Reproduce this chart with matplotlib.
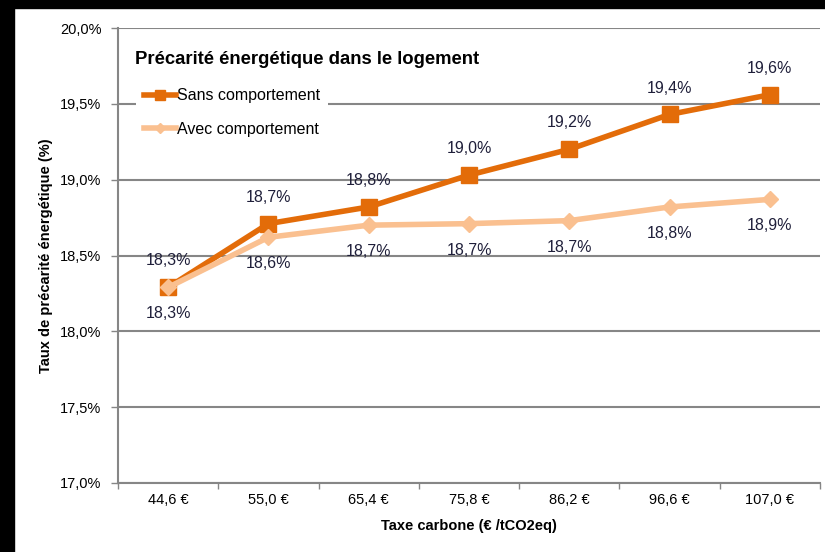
import matplotlib
matplotlib.use("Agg")
import matplotlib.pyplot as plt
from matplotlib.patches import Rectangle

categories = ["44,6 €", "55,0 €", "65,4 €", "75,8 €", "86,2 €", "96,6 €", "107,0 €"]
sans = [18.29, 18.71, 18.82, 19.03, 19.20, 19.43, 19.56]
avec = [18.29, 18.62, 18.70, 18.71, 18.73, 18.82, 18.87]
sans_labels = ["18,3%", "18,7%", "18,8%", "19,0%", "19,2%", "19,4%", "19,6%"]
avec_labels = ["18,3%", "18,6%", "18,7%", "18,7%", "18,7%", "18,8%", "18,9%"]
yticks = [17.0, 17.5, 18.0, 18.5, 19.0, 19.5, 20.0]
ytick_labels = ["17,0%", "17,5%", "18,0%", "18,5%", "19,0%", "19,5%", "20,0%"]

plt.rcParams['font.family'] = ['Liberation Sans', 'DejaVu Sans']

c_sans = "#E36C09"
c_avec = "#FAC090"
grid_c = "#868686"
lab_c = "#1F1F3A"

fig = plt.figure(figsize=(8.25, 5.52), dpi=100)
ax = fig.add_axes([118/825, 69/552, 702/825, 455/552])

x = list(range(len(categories)))
ax.set_xlim(-0.5, len(categories) - 0.5)
ax.set_ylim(17.0, 20.0)

ax.set_yticks(yticks)
ax.set_yticklabels(ytick_labels, fontsize=10.5)
ax.yaxis.grid(True, color=grid_c, linewidth=1.5, zorder=0)
ax.set_axisbelow(True)

ax.set_xticks(x)
ax.set_xticklabels(categories, fontsize=10.5)
ax.set_xticks([i - 0.5 for i in range(len(categories) + 1)], minor=True)
ax.tick_params(axis='x', which='major', length=0, pad=7)
ax.tick_params(axis='x', which='minor', length=4, color=grid_c, width=1)
ax.tick_params(axis='y', length=5, color=grid_c, width=1, pad=7)

for s in ['top', 'right']:
    ax.spines[s].set_visible(False)
for s in ['left', 'bottom']:
    ax.spines[s].set_color(grid_c)
    ax.spines[s].set_linewidth(1.5)

ax.plot(x, sans, color=c_sans, lw=4, marker='s', ms=12, zorder=4, label="Sans comportement")
ax.plot(x, avec, color=c_avec, lw=4, marker='D', ms=8, zorder=5, label="Avec comportement")

for xi, v, t in zip(x, sans, sans_labels):
    ax.annotate(t, (xi, v), xytext=(0, 19), textcoords='offset points',
                ha='center', va='center', fontsize=11.5, color=lab_c, zorder=6)
for xi, v, t in zip(x, avec, avec_labels):
    ax.annotate(t, (xi, v), xytext=(0, -19), textcoords='offset points',
                ha='center', va='center', fontsize=11.5, color=lab_c, zorder=6)

leg = ax.legend(loc='upper left', bbox_to_anchor=(0.026, 0.885), fontsize=11.5,
                frameon=True, facecolor='white', edgecolor='none', framealpha=1,
                handlelength=2.0, handletextpad=0.05, labelspacing=1.15,
                borderpad=0.5, borderaxespad=0, fancybox=False, markerscale=0.6)
leg.set_zorder(7)

ax.text((135-118)/702, 1 - (60-28)/455, "Précarité énergétique dans le logement",
        transform=ax.transAxes, fontsize=13.3, fontweight='bold', ha='left', va='center', zorder=8)

ax.set_ylabel("Taux de précarité énergétique (%)", fontsize=10.5, fontweight='bold', labelpad=5)
ax.set_xlabel("Taxe carbone (€ /tCO2eq)", fontsize=10.5, fontweight='bold', labelpad=9)

fig.patches.append(Rectangle((0, 0), 14/825, 1, transform=fig.transFigure, color='black', zorder=10))
fig.patches.append(Rectangle((0, 1 - 8/552), 1, 8/552, transform=fig.transFigure, color='black', zorder=10))

fig.savefig("out.png", dpi=100)
